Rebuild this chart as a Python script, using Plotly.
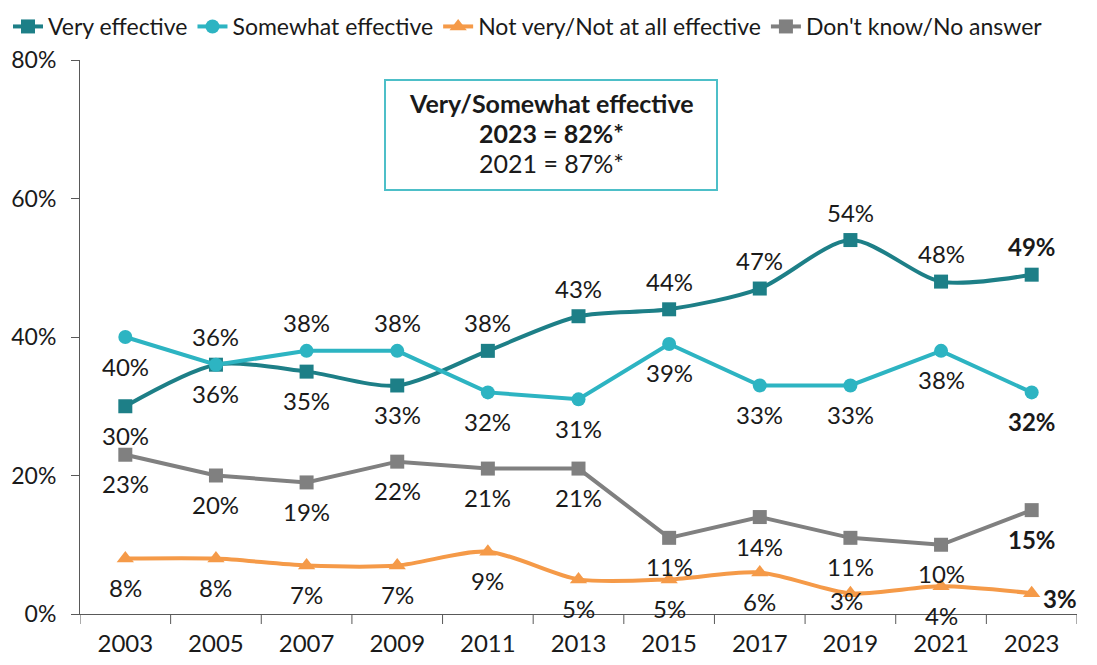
import plotly.graph_objects as go

years = ["2003", "2005", "2007", "2009", "2011", "2013", "2015", "2017", "2019", "2021", "2023"]
very = [30, 36, 35, 33, 38, 43, 44, 47, 54, 48, 49]
somewhat = [40, 36, 38, 38, 32, 31, 39, 33, 33, 38, 32]
notvery = [8, 8, 7, 7, 9, 5, 5, 6, 3, 4, 3]
dontknow = [23, 20, 19, 22, 21, 21, 11, 14, 11, 10, 15]
ytick_vals = [0, 20, 40, 60, 80]
ytick_text = ["0%", "20%", "40%", "60%", "80%"]
box_lines = ["<b>Very/Somewhat effective</b>", "<b>2023 = 82%*</b>", "2021 = 87%*"]

# label placement: 1 = above, -1 = below, 2 = right, 3 = below-left
very_pos = [-1, 1, -1, -1, 1, 1, 1, 1, 1, 1, 1]
somewhat_pos = [-1, -1, 1, 1, -1, -1, -1, -1, -1, -1, -1]
notvery_pos = [-1, -1, -1, -1, -1, -1, -1, -1, 3, -1, 2]
dontknow_pos = [-1] * 11

C_VERY = "#1d7f87"
C_SOME = "#2db4c2"
C_NOT = "#f59a48"
C_DK = "#808080"
C_AXIS = "#595959"
FONT = "Lato"

W, H = 1097, 665
OFF = 8  # page body margin offset
L, T = 80 - OFF, 60 - OFF
R, B = W - (1077 - OFF), H - (614 - OFF)
PW, PH = W - L - R, H - T - B


def px_x(rx):
    return (rx - OFF - L) / PW


def px_y(ry):
    return (H - B - (ry - OFF)) / PH


fig = go.Figure()

series = [
    ("Very effective", very, C_VERY, "square", "spline", very_pos),
    ("Somewhat effective", somewhat, C_SOME, "circle", "linear", somewhat_pos),
    ("Not very/Not at all effective", notvery, C_NOT, "triangle-up", "spline", notvery_pos),
    ("Don't know/No answer", dontknow, C_DK, "square", "linear", dontknow_pos),
]

order = [0, 3, 2, 1]
for idx in order:
    name, vals, col, sym, shape, _ = series[idx]
    fig.add_trace(go.Scatter(
        x=list(range(len(years))), y=vals, name=name, mode="lines+markers",
        line=dict(color=col, width=4, shape=shape, smoothing=0.8),
        marker=dict(color=col, symbol=sym, size=14 if sym != "triangle-up" else 15),
        legendrank=idx,
    ))

annotations = []
for name, vals, col, sym, shape, pos in series:
    for i, v in enumerate(vals):
        last = i == len(years) - 1
        txt = f"<b>{v}%</b>" if last else f"{v}%"
        p = pos[i]
        if p == 1:
            xs, ys = 0, 28
        elif p == -1:
            xs, ys = 0, -29
        elif p == 2:
            xs, ys = 28, -5
        else:
            xs, ys = -4, -7
        annotations.append(dict(
            x=i, y=v, xref="x", yref="y", text=txt, showarrow=False,
            xshift=xs, yshift=ys, font=dict(family=FONT, size=24, color="#1a1a1a"),
        ))

for k, (line, ry) in enumerate(zip(box_lines, [103, 133, 163])):
    annotations.append(dict(
        x=px_x(551), y=px_y(ry), xref="paper", yref="paper", showarrow=False,
        xanchor="center", yanchor="middle", text=line,
        font=dict(family=FONT, size=25, color="#1a1a1a"),
    ))

fig.update_layout(
    width=W, height=H,
    margin=dict(l=L, r=R, t=T, b=B, autoexpand=False),
    paper_bgcolor="white", plot_bgcolor="white",
    font=dict(family=FONT, size=24, color="#1a1a1a"),
    showlegend=True,
    legend=dict(orientation="h", x=-L / PW, y=px_y(5), yanchor="top", xanchor="left",
                font=dict(family=FONT, size=23, color="#1a1a1a"), itemwidth=30,
                traceorder="normal", tracegroupgap=0, borderwidth=0),
    annotations=annotations,
    shapes=[dict(type="rect", xref="paper", yref="paper",
                 x0=px_x(385), x1=px_x(717), y0=px_y(190), y1=px_y(80),
                 line=dict(color="#4dbfc8", width=2), fillcolor="white", layer="below")],
    xaxis=dict(range=[-0.5, 10.5], tickvals=list(range(len(years))), ticktext=years,
               showline=True, linecolor=C_AXIS, linewidth=1,
               ticks="", showgrid=False, tickfont=dict(family=FONT, size=24, color="#1a1a1a"),
               zeroline=False, automargin=False, ticklabelstandoff=8),
    yaxis=dict(range=[0, 80], tickvals=ytick_vals, ticktext=ytick_text, showline=True,
               linecolor=C_AXIS, linewidth=1, ticks="outside", ticklen=8, tickcolor=C_AXIS,
               showgrid=False, zeroline=False,
               tickfont=dict(family=FONT, size=23, color="#1a1a1a"),
               automargin=False, ticklabelstandoff=10),
)

# boundary tick marks between categories on the x axis
bounds = [i - 0.5 for i in range(len(years) + 1)]
for bx in bounds:
    fig.add_shape(type="line", xref="x", yref="paper", x0=bx, x1=bx, y0=0, y1=-10 / PH,
                  line=dict(color=C_AXIS, width=1))

fig.write_html("out.html")
